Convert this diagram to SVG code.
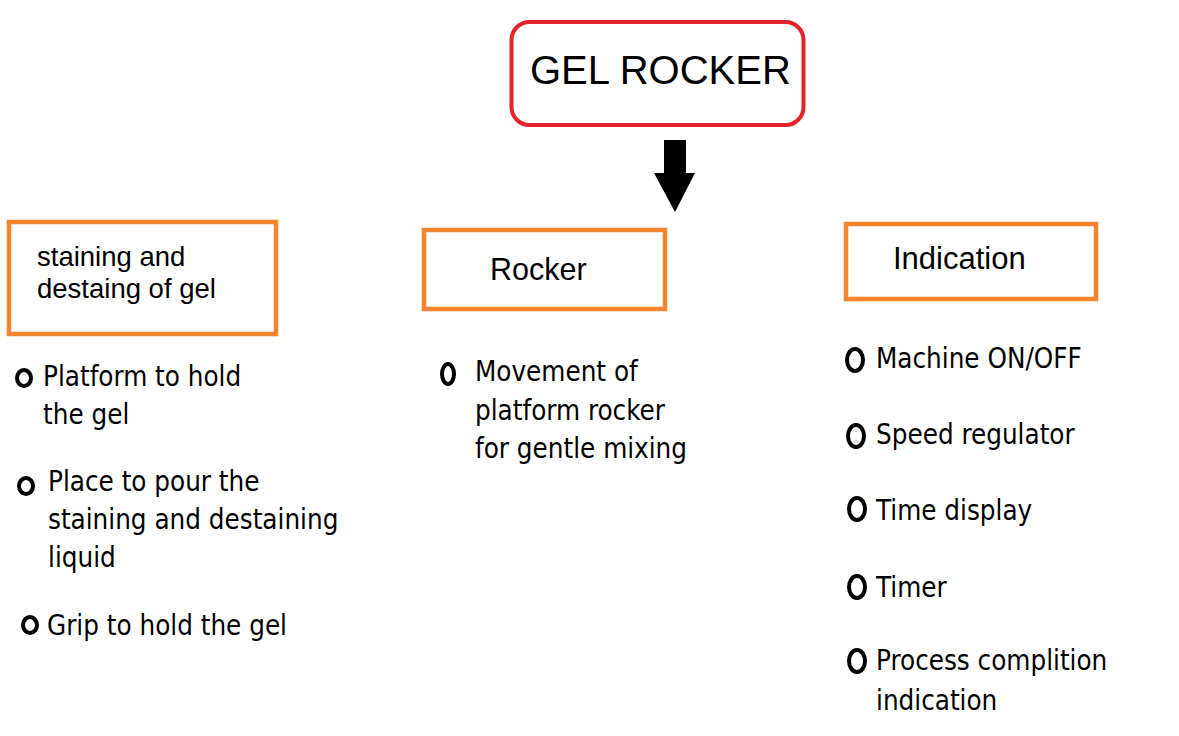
<svg xmlns="http://www.w3.org/2000/svg" width="1179" height="736" viewBox="0 0 1179 736">
<style>
.hdr{font-family:"Liberation Sans",Arial,sans-serif;fill:#000}
.item{font-family:"DejaVu Sans Condensed","DejaVu Sans",sans-serif;font-stretch:condensed;font-size:27.5px;fill:#000}
.box{fill:none;stroke:#F7842F;stroke-width:4.5}
.dot{fill:none;stroke:#000;stroke-width:4}
</style>
<rect width="1179" height="736" fill="#fff"/>
<g id="title">
<rect x="511.5" y="22" width="292" height="103" rx="18" fill="none" stroke="#E4222A" stroke-width="4"/>
<text class="hdr" x="530" y="84" font-size="40">GEL ROCKER</text>
</g>
<g id="connectors">
<polygon points="664,140 686,140 686,173 695,173 675,212 654,173 664,173" fill="#000"/>
</g>
<g id="staining">
<rect class="box" x="9" y="222" width="267" height="112"/>
<text class="hdr" font-size="27.5" x="37" y="266">staining and</text>
<text class="hdr" font-size="27.5" x="37" y="298">destaing of gel</text>
<ellipse class="dot" cx="24" cy="378" rx="7" ry="8"/>
<text class="item" x="43" y="386">Platform to hold</text>
<text class="item" x="43" y="424">the gel</text>
<ellipse class="dot" cx="26" cy="486" rx="7" ry="8"/>
<text class="item" x="48" y="491">Place to pour the</text>
<text class="item" x="48" y="529">staining and destaining</text>
<text class="item" x="48" y="567">liquid</text>
<ellipse class="dot" cx="30" cy="625" rx="7" ry="8"/>
<text class="item" x="47" y="635">Grip to hold the gel</text>
</g>
<g id="rocker">
<rect class="box" x="424" y="230" width="241" height="79"/>
<text class="hdr" font-size="30.5" x="490" y="280">Rocker</text>
<ellipse class="dot" cx="448" cy="374" rx="6" ry="10"/>
<text class="item" x="475" y="381">Movement of</text>
<text class="item" x="475" y="420">platform rocker</text>
<text class="item" x="475" y="458">for gentle mixing</text>
</g>
<g id="indication">
<rect class="box" x="846" y="224" width="250" height="75"/>
<text class="hdr" font-size="31" x="893" y="269">Indication</text>
<ellipse class="dot" cx="855" cy="360" rx="8" ry="11"/>
<text class="item" x="876" y="368">Machine ON/OFF</text>
<ellipse class="dot" cx="856" cy="436" rx="8" ry="11"/>
<text class="item" x="876" y="444">Speed regulator</text>
<ellipse class="dot" cx="857" cy="509" rx="8" ry="11"/>
<text class="item" x="876" y="520">Time display</text>
<ellipse class="dot" cx="857" cy="587" rx="8" ry="11"/>
<text class="item" x="876" y="597">Timer</text>
<ellipse class="dot" cx="857" cy="661" rx="8" ry="11"/>
<text class="item" x="876" y="670">Process complition</text>
<text class="item" x="876" y="710">indication</text>
</g>
</svg>
